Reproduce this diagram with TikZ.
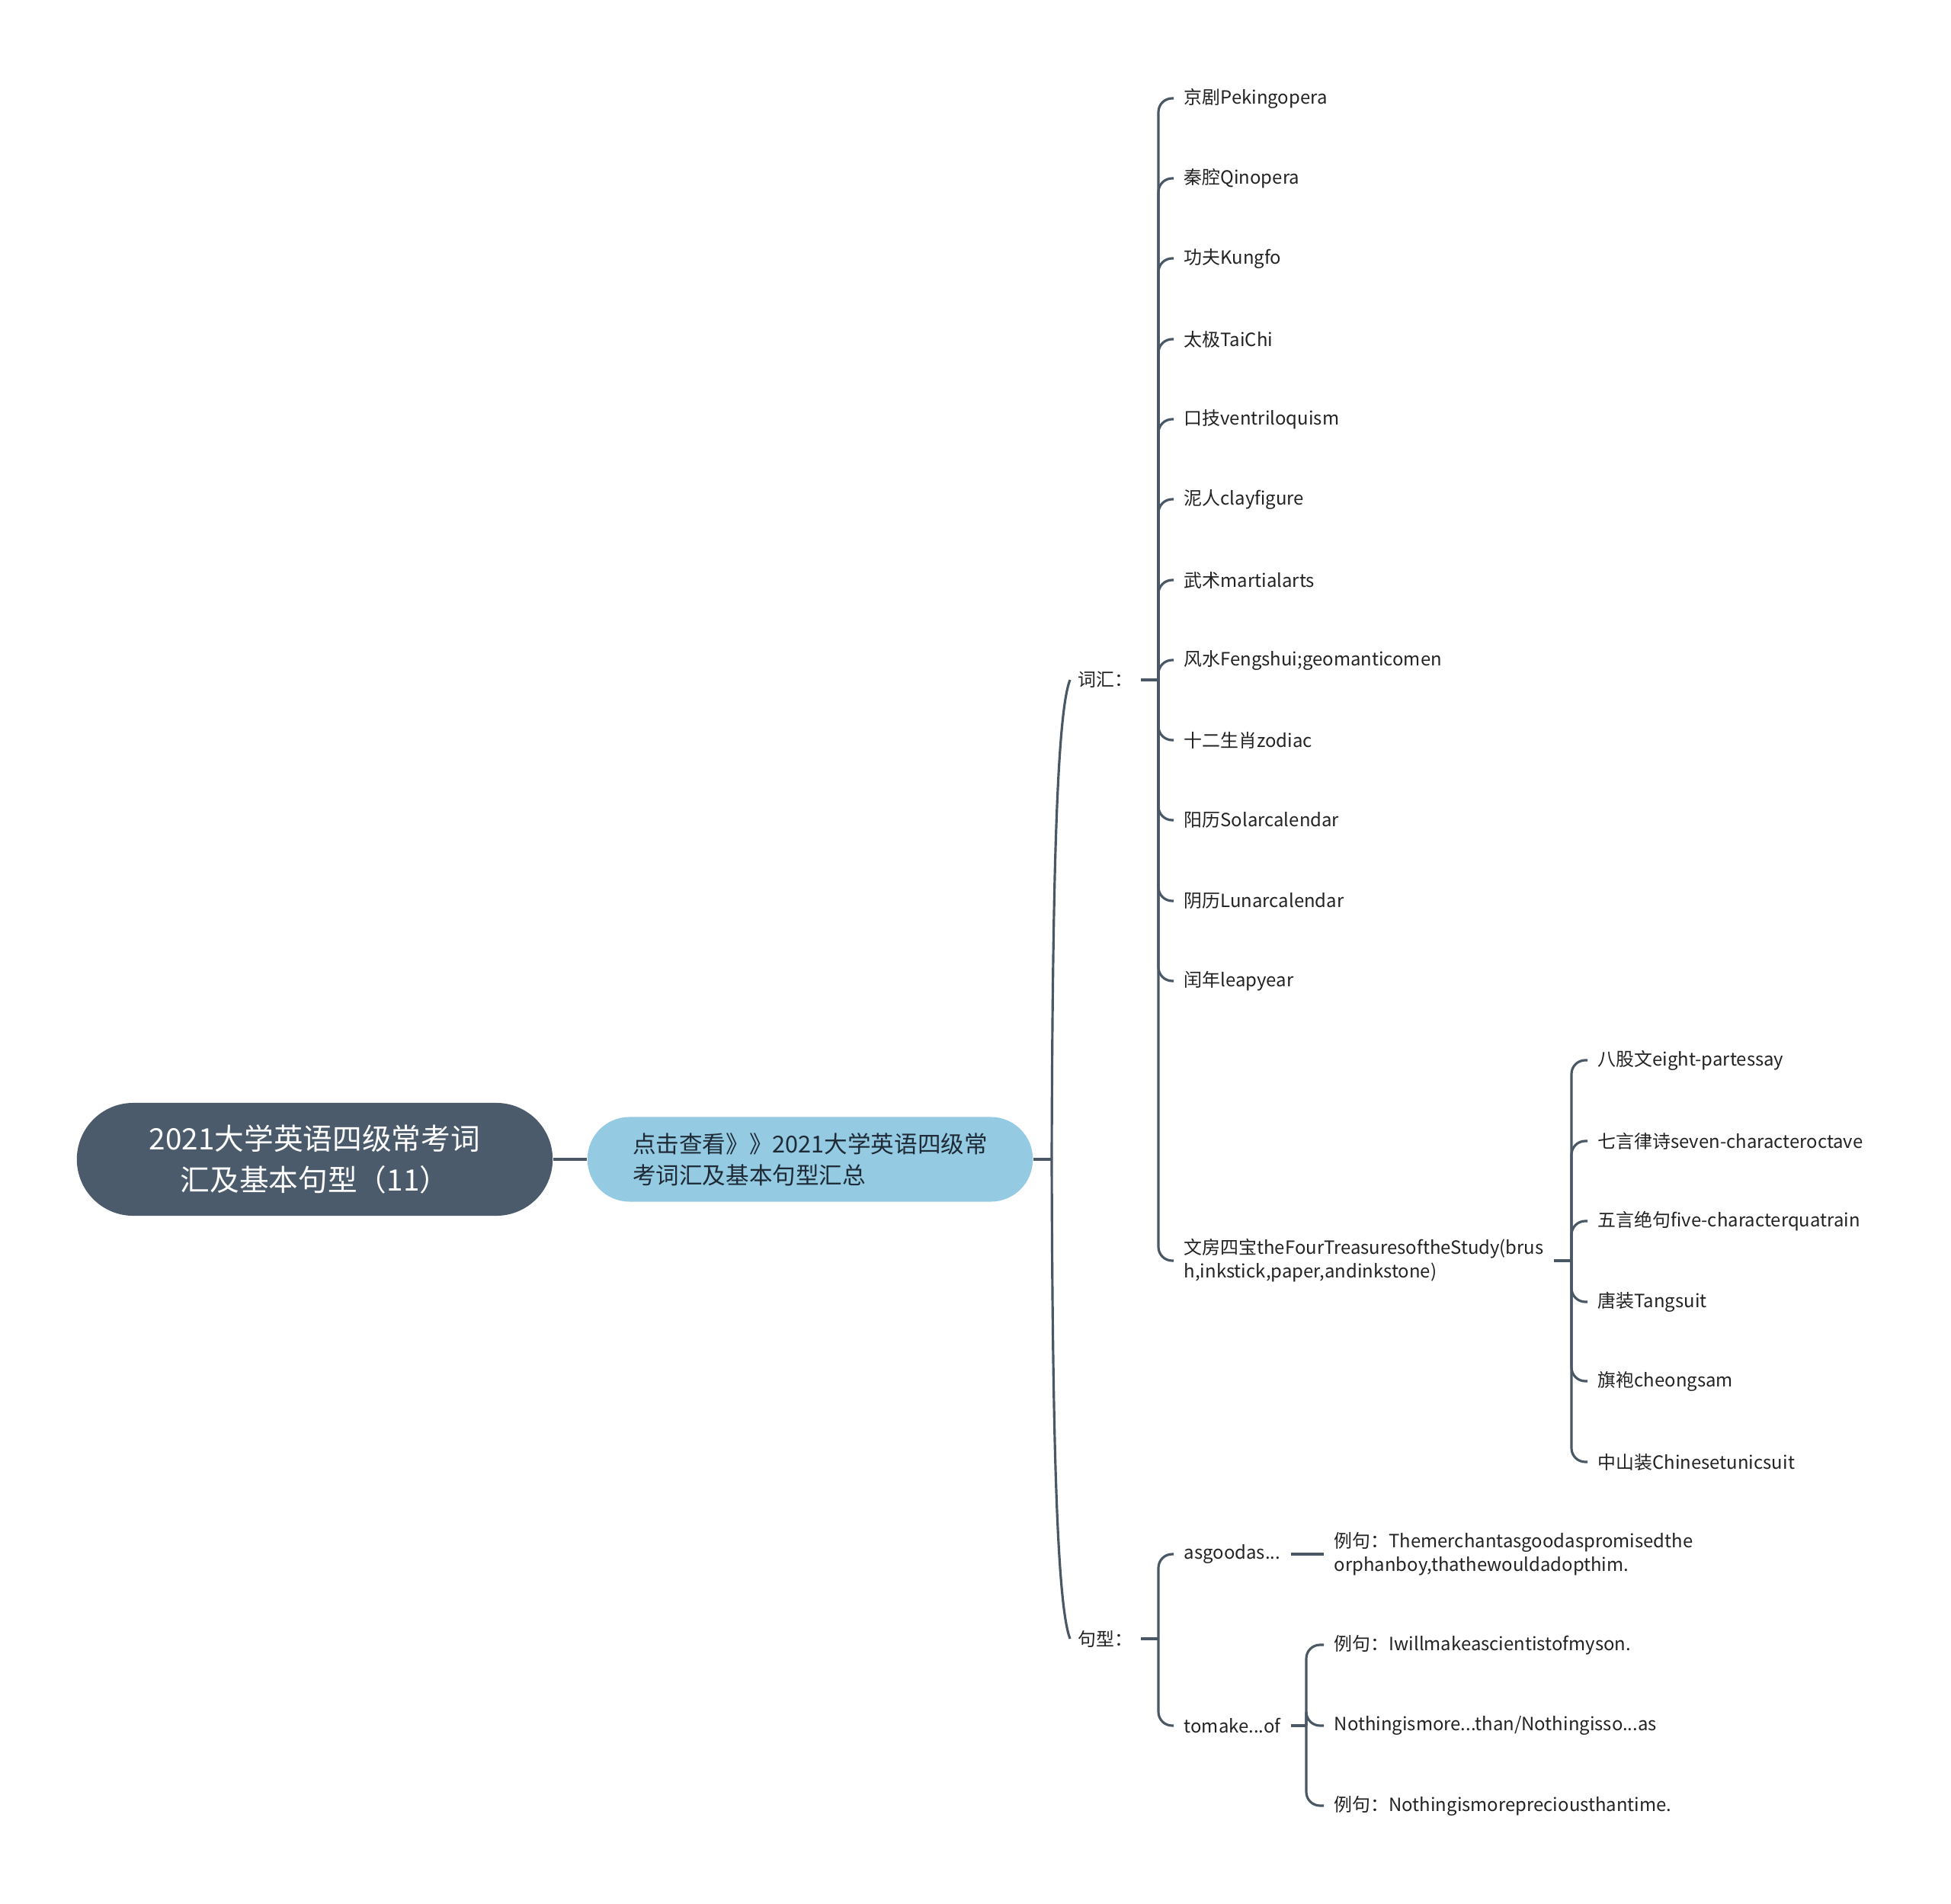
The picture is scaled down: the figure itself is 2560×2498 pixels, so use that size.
\documentclass[tikz,border=0pt]{standalone}
\usepackage{fontspec}
\setmainfont{Noto Sans CJK SC}
\usepackage{xcolor}
\definecolor{MapSlate}{HTML}{4B5B6B}
\definecolor{MapLine}{HTML}{4A5866}
\definecolor{MapSky}{HTML}{95CAE3}
\definecolor{MapInk}{HTML}{1E2A36}
\definecolor{MapText}{HTML}{222222}
\tikzset{
    % Node styles - pill shapes for the two main topics
    roottopic/.style={
        rectangle,
        rounded corners=0.74cm,
        fill=MapSlate,
        text=white,
        minimum width=6.24cm,
        minimum height=1.48cm,
        align=center,
        font=\fontsize{11pt}{15.3pt}\selectfont
    },
    maintopic/.style={
        rectangle,
        rounded corners=0.55cm,
        fill=MapSky,
        text=MapInk,
        minimum width=5.84cm,
        minimum height=1.11cm,
        align=left,
        font=\fontsize{8.7pt}{11.6pt}\selectfont
    },
    branch/.style={
        anchor=west,
        inner xsep=0.1cm,
        text=MapText,
        font=\fontsize{6.8pt}{8.8pt}\selectfont
    },
    leaf/.style={
        anchor=west,
        inner xsep=0.13cm,
        align=left,
        text=MapText,
        font=\fontsize{6.8pt}{8.8pt}\selectfont
    },
    % Connector styles
    link/.style={
        draw=MapLine,
        line width=0.9pt
    },
    elbow/.style={
        link,
        rounded corners=0.18cm
    }
}

\begin{document}
\begin{tikzpicture}[x=0.01cm, y=-0.01cm]
    \useasboundingbox (0,0) rectangle (2560,2498);

    \node[roottopic] (root) at (413,1521) {2021大学英语四级常考词\\汇及基本句型（11）};
    \node[maintopic] (sum) at (1063,1521) {点击查看》》2021大学英语四级常\\考词汇及基本句型汇总};
    \coordinate (trunk) at (1380,1521);

    % vocabulary
    \node[branch] (vocab) at (1404,892) {词汇：};
    \coordinate (vhub) at (1520,892);
    \node[leaf] (v1) at (1540,129) {京剧Pekingopera};
    \node[leaf] (v2) at (1540,234) {秦腔Qinopera};
    \node[leaf] (v3) at (1540,339) {功夫Kungfo};
    \node[leaf] (v4) at (1540,445) {太极TaiChi};
    \node[leaf] (v5) at (1540,550) {口技ventriloquism};
    \node[leaf] (v6) at (1540,655) {泥人clayfigure};
    \node[leaf] (v7) at (1540,761) {武术martialarts};
    \node[leaf] (v8) at (1540,866) {风水Fengshui;geomanticomen};
    \node[leaf] (v9) at (1540,971) {十二生肖zodiac};
    \node[leaf] (v10) at (1540,1076) {阳历Solarcalendar};
    \node[leaf] (v11) at (1540,1182) {阴历Lunarcalendar};
    \node[leaf] (v12) at (1540,1287) {闰年leapyear};
    \node[leaf] (wf) at (1540,1654) {文房四宝theFourTreasuresoftheStudy(brus\\h,inkstick,paper,andinkstone)};

    \coordinate (whub) at (2062,1654);
    \node[leaf] (w1) at (2083,1391) {八股文eight-partessay};
    \node[leaf] (w2) at (2083,1497) {七言律诗seven-characteroctave};
    \node[leaf] (w3) at (2083,1602) {五言绝句five-characterquatrain};
    \node[leaf] (w4) at (2083,1708) {唐装Tangsuit};
    \node[leaf] (w5) at (2083,1812) {旗袍cheongsam};
    \node[leaf] (w6) at (2083,1918) {中山装Chinesetunicsuit};

    % sentence patterns
    \node[branch] (sent) at (1404,2150) {句型：};
    \coordinate (shub) at (1520,2150);
    \node[leaf] (good) at (1540,2039) {asgoodas...};
    \node[leaf] (make) at (1540,2264) {tomake...of};
    \node[leaf] (g1) at (1737,2039) {例句：Themerchantasgoodaspromisedthe\\orphanboy,thathewouldadopthim.};
    \coordinate (mhub) at (1714,2264);
    \node[leaf] (m1) at (1737,2158) {例句：Iwillmakeascientistofmyson.};
    \node[leaf] (m2) at (1737,2264) {Nothingismore...than/Nothingisso...as};
    \node[leaf] (m3) at (1737,2369) {例句：Nothingismorepreciousthantime.};

    \draw[link, line width=1pt] (root) -- (sum);
    \draw[link, line width=1pt] (sum) -- (trunk);
    \draw[link] (trunk) .. controls (1381,1150) and (1387,935) .. (vocab.west);
    \draw[link] (trunk) .. controls (1381,1890) and (1387,2105) .. (sent.west);

    \draw[link] (vocab) -- (vhub);
    \draw[elbow] (vhub) |- (v1.west);
    \draw[elbow] (vhub) |- (v2.west);
    \draw[elbow] (vhub) |- (v3.west);
    \draw[elbow] (vhub) |- (v4.west);
    \draw[elbow] (vhub) |- (v5.west);
    \draw[elbow] (vhub) |- (v6.west);
    \draw[elbow] (vhub) |- (v7.west);
    \draw[elbow] (vhub) |- (v8.west);
    \draw[elbow] (vhub) |- (v9.west);
    \draw[elbow] (vhub) |- (v10.west);
    \draw[elbow] (vhub) |- (v11.west);
    \draw[elbow] (vhub) |- (v12.west);
    \draw[elbow] (vhub) |- (wf.west);

    \draw[link] (wf) -- (whub);
    \draw[elbow] (whub) |- (w1.west);
    \draw[elbow] (whub) |- (w2.west);
    \draw[elbow] (whub) |- (w3.west);
    \draw[elbow] (whub) |- (w4.west);
    \draw[elbow] (whub) |- (w5.west);
    \draw[elbow] (whub) |- (w6.west);

    \draw[link] (sent) -- (shub);
    \draw[elbow] (shub) |- (good.west);
    \draw[elbow] (shub) |- (make.west);
    \draw[link] (good) -- (g1);
    \draw[link] (make) -- (mhub);
    \draw[elbow] (mhub) |- (m1.west);
    \draw[elbow] (mhub) |- (m2.west);
    \draw[elbow] (mhub) |- (m3.west);
\end{tikzpicture}
\end{document}
